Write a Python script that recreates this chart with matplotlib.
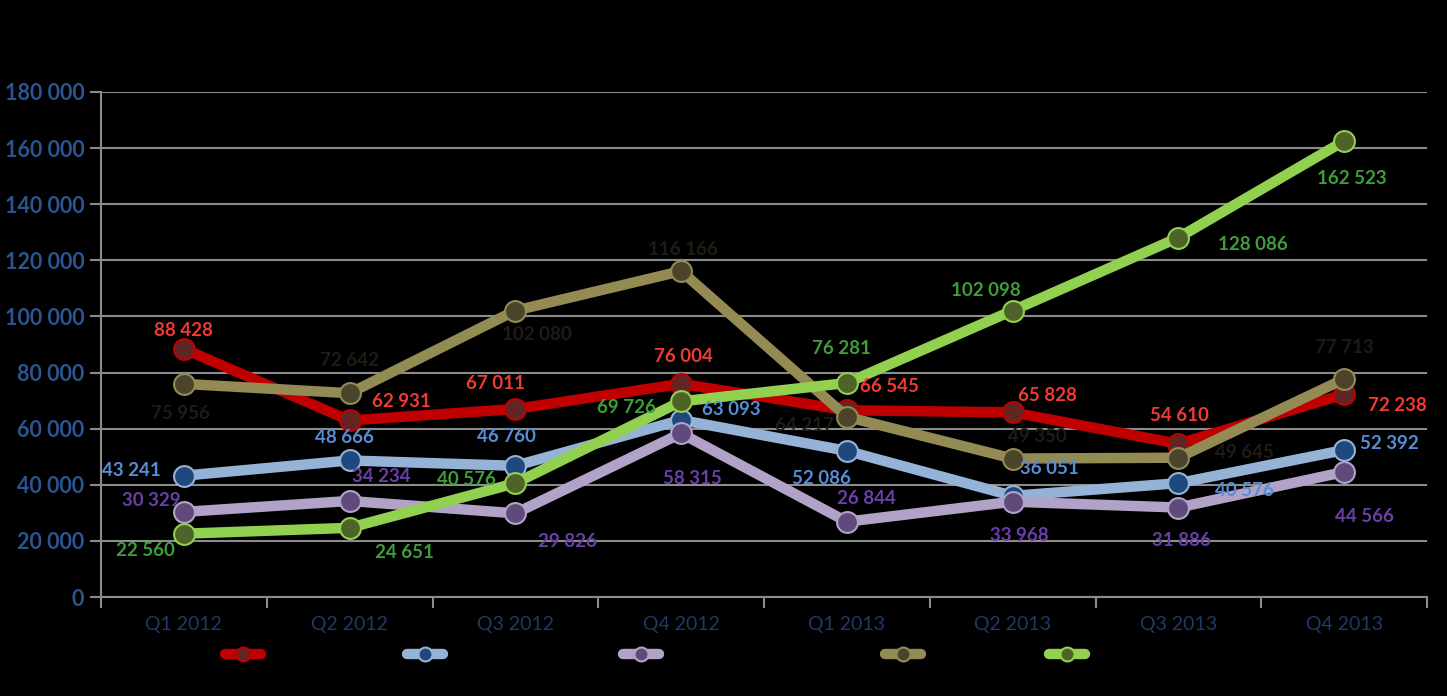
import matplotlib
matplotlib.use("Agg")
import matplotlib.pyplot as plt
from matplotlib.lines import Line2D

plt.rcParams['font.family'] = ['Lato', 'DejaVu Sans']

categories = ["Q1 2012", "Q2 2012", "Q3 2012", "Q4 2012",
              "Q1 2013", "Q2 2013", "Q3 2013", "Q4 2013"]

red_vals = [88428, 62931, 67011, 76004, 66545, 65828, 54610, 72238]
blue_vals = [43241, 48666, 46760, 63093, 52086, 36051, 40576, 52392]
lav_vals = [30329, 34234, 29826, 58315, 26844, 33968, 31886, 44566]
olive_vals = [75956, 72642, 102080, 116166, 64217, 49350, 49645, 77713]
green_vals = [22560, 24651, 40576, 69726, 76281, 102098, 128086, 162523]

y_ticks = [0, 20000, 40000, 60000, 80000, 100000, 120000, 140000, 160000, 180000]

# styling: (line colour, marker face, label colour, label offsets in pixels, +y = up)
series = [
    (red_vals, "#C00000", "#632523", "#F03A32",
     [(0, 18), (52, 19), (-20, 25), (2, 27), (43, 24), (35, 17), (1, 28), (53, -11)]),
    (blue_vals, "#95B3D7", "#1F497D", "#558ED5",
     [(-53, 5), (-5, 23), (-9, 29), (50, 10), (-25, -28), (37, 27), (66, -7), (45, 7)]),
    (lav_vals, "#B3A2C7", "#604A7B", "#6A3FA8",
     [(-33, 11), (32, 24), (52, -28), (11, -45), (20, 23), (7, -34), (3, -33), (20, -45)]),
    (olive_vals, "#948A54", "#4A452A", "#1E1C14",
     [(-3, -30), (0, 33), (22, -24), (2, 22), (-42, -9), (25, 22), (66, 5), (0, 31)]),
    (green_vals, "#92D050", "#4F6228", "#3E9E3A",
     [(-38, -17), (55, -25), (-49, 4), (-55, -6), (-5, 34), (-27, 20), (75, -7), (8, -37)]),
]

fig = plt.figure(figsize=(14.47, 6.96), dpi=100, facecolor="black")
ax = fig.add_axes([101 / 1447, 1 - 597 / 696, (1427 - 101) / 1447, (597 - 92) / 696])
ax.set_facecolor("black")

x = list(range(len(categories)))
handles = []
for vals, lc, mf, tc, offs in series:
    ln, = ax.plot(x, vals, color=lc, lw=7.5, marker="o", markersize=15,
                  markerfacecolor=mf, markeredgecolor=lc, markeredgewidth=1.5,
                  solid_capstyle="butt", clip_on=False)
    handles.append(ln)
    for xi, v, (dx, dy) in zip(x, vals, offs):
        ax.annotate(f"{v:,}".replace(",", " "), (xi, v), xytext=(dx, dy),
                    textcoords="offset pixels", ha="center", va="center",
                    color=tc, fontsize=13.5, fontweight="bold", zorder=10)

ax.set_xlim(-0.5, len(categories) - 0.5)
ax.set_ylim(0, 180000)
ax.set_yticks(y_ticks)
ax.set_yticklabels([f"{t:,}".replace(",", " ") for t in y_ticks],
                   color="#2A5591", fontsize=15.5, fontweight="bold")
ax.yaxis.grid(True, color="#8C8C8C", lw=1.5)
ax.set_axisbelow(True)

ax.set_xticks([i - 0.5 for i in range(len(categories) + 1)])
ax.set_xticklabels([])
ax.set_xticks(x, minor=True)
ax.set_xticklabels(categories, minor=True, color="#1F3A66", fontsize=14)
ax.tick_params(axis="x", which="minor", length=0, pad=14)
ax.tick_params(axis="x", which="major", length=8, color="#8C8C8C", width=1.5)
ax.tick_params(axis="y", length=8, color="#8C8C8C", width=1.5, pad=4)

for s in ["top", "right"]:
    ax.spines[s].set_visible(False)
for s in ["left", "bottom"]:
    ax.spines[s].set_color("#8C8C8C")
    ax.spines[s].set_linewidth(1.5)

legend_x = [243, 425, 641, 903, 1067]
for h, lx in zip(handles, legend_x):
    proxy = Line2D([], [], color=h.get_color(), lw=7.5, marker="o", markersize=10,
                   markerfacecolor=h.get_markerfacecolor(),
                   markeredgecolor=h.get_color(), markeredgewidth=1.5,
                   solid_capstyle="round")
    fig.legend([proxy], [""], loc="center", bbox_to_anchor=(lx / 1447, 1 - 655 / 696),
               frameon=False, handlelength=2.6, handletextpad=0, borderpad=0,
               borderaxespad=0)

fig.savefig("out.png", dpi=100, facecolor="black")
